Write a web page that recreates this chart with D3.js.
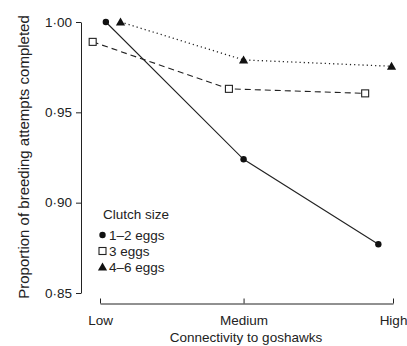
<!DOCTYPE html>
<html>
<head>
<meta charset="utf-8">
<script src="https://cdn.jsdelivr.net/npm/d3@7"></script>
<style>
  body { margin: 0; background: #fff; }
  text { font-family: "Liberation Sans", Arial, sans-serif; fill: #222; }
</style>
</head>
<body>
<div id="chart"></div>
<script>
// connectivity classes and where each tick sits on the x scale
var categories = ["Low", "Medium", "High"];
var categoryPos = [0, 0.98, 2];

// each series: x position (connectivity units) and proportion completed
var eggs12X = [0.04, 0.98, 1.90];
var eggs12Y = [1.000, 0.924, 0.877];
var eggs3X = [-0.05, 0.88, 1.81];
var eggs3Y = [0.989, 0.963, 0.9605];
var eggs46X = [0.14, 0.98, 1.99];
var eggs46Y = [1.000, 0.979, 0.9755];

var yTicks = [0.85, 0.90, 0.95, 1.00];
var seriesNames = ["1–2 eggs", "3 eggs", "4–6 eggs"];

var W = 407, H = 346;

var svg = d3.select("#chart").append("svg")
  .attr("width", W)
  .attr("height", H);

var x = d3.scaleLinear().domain([0, 2]).range([100, 393]);
var y = d3.scaleLinear().domain([0.85, 1.00]).range([293, 22]);

var fmt = function (d) { return d3.format(".2f")(d).replace(".", "·"); };

// y axis
var yAxis = svg.append("g")
  .attr("transform", "translate(81,0)")
  .call(d3.axisLeft(y).tickValues(yTicks).tickFormat(fmt).tickSize(5).tickSizeOuter(0));
yAxis.select(".domain").attr("stroke", "#222");
yAxis.selectAll(".tick line").attr("stroke", "#222");
yAxis.selectAll("text").style("font-size", "13.5px").attr("x", -9).attr("fill", "#222");

// x axis, ticks pointing up
var xAxis = svg.append("g")
  .attr("transform", "translate(0,303.5)")
  .call(d3.axisBottom(x).tickValues(categoryPos)
    .tickFormat(function (d, i) { return categories[i]; })
    .tickSize(-5).tickSizeOuter(0));
xAxis.select(".domain").attr("stroke", "#222");
xAxis.selectAll(".tick line").attr("stroke", "#222");
xAxis.selectAll("text").style("font-size", "13.5px").attr("y", 11.5).attr("dy", "0.71em").attr("fill", "#222");

// axis titles
svg.append("text")
  .attr("transform", "translate(29,157) rotate(-90)")
  .attr("text-anchor", "middle")
  .style("font-size", "15px")
  .text("Proportion of breeding attempts completed");

svg.append("text")
  .attr("x", 246)
  .attr("y", 341.5)
  .attr("text-anchor", "middle")
  .style("font-size", "13.5px")
  .text("Connectivity to goshawks");

var series = [
  { xs: eggs12X, ys: eggs12Y, dash: null, width: 1.1, marker: "circle" },
  { xs: eggs3X, ys: eggs3Y, dash: "6,4", width: 1.1, marker: "square" },
  { xs: eggs46X, ys: eggs46Y, dash: "1.2,3", width: 1.3, marker: "triangle" }
];

var line = d3.line()
  .x(function (d) { return x(d[0]); })
  .y(function (d) { return y(d[1]); });

function drawMarker(g, type, cx, cy) {
  if (type === "circle") {
    g.append("circle").attr("cx", cx).attr("cy", cy).attr("r", 3.2).attr("fill", "#111");
  } else if (type === "square") {
    g.append("rect").attr("x", cx - 3.5).attr("y", cy - 3.5)
      .attr("width", 7).attr("height", 7)
      .attr("fill", "#fff").attr("stroke", "#222").attr("stroke-width", 1.1);
  } else {
    g.append("path")
      .attr("d", "M" + cx + "," + (cy - 4.5) + "L" + (cx + 4.6) + "," + (cy + 3.5) + "L" + (cx - 4.6) + "," + (cy + 3.5) + "Z")
      .attr("fill", "#111");
  }
}

series.forEach(function (s) {
  var pts = s.xs.map(function (v, i) { return [v, s.ys[i]]; });
  svg.append("path")
    .datum(pts)
    .attr("d", line)
    .attr("fill", "none")
    .attr("stroke", "#222")
    .attr("stroke-width", s.width)
    .attr("stroke-dasharray", s.dash);
  var g = svg.append("g");
  pts.forEach(function (p) { drawMarker(g, s.marker, x(p[0]), y(p[1])); });
});

// legend
svg.append("text")
  .attr("x", 103)
  .attr("y", 219)
  .style("font-size", "13.5px")
  .text("Clutch size");

var legend = svg.append("g");
seriesNames.forEach(function (name, i) {
  var ly = 235 + i * 16;
  drawMarker(legend, series[i].marker, 102.5, ly);
  legend.append("text")
    .attr("x", 109)
    .attr("y", ly + 5)
    .style("font-size", "13.5px")
    .text(name);
});
</script>
</body>
</html>
